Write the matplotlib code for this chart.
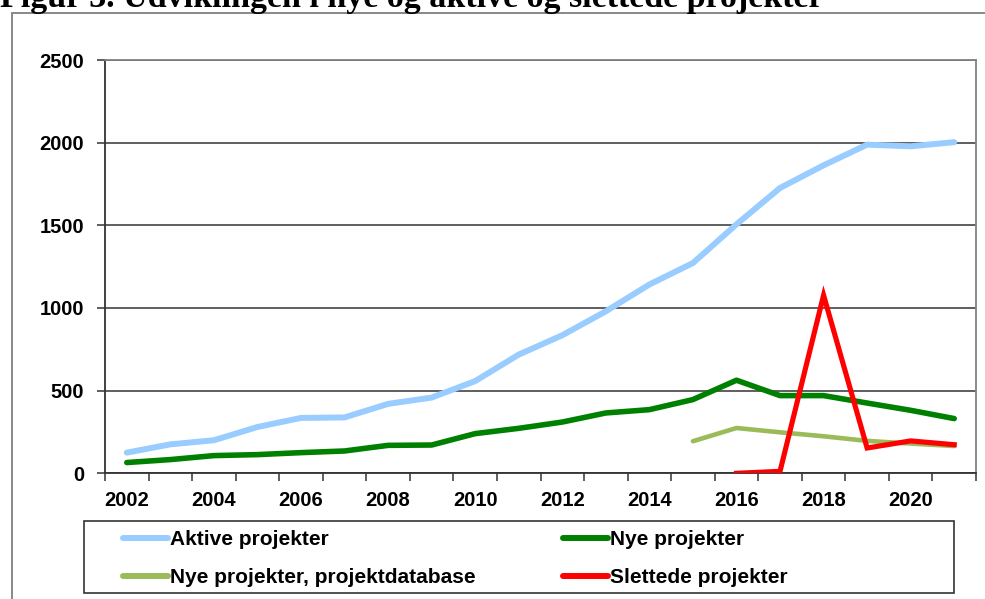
import matplotlib
matplotlib.use("Agg")
import matplotlib.pyplot as plt
from matplotlib.lines import Line2D
from matplotlib.patches import Rectangle

years = list(range(2002, 2022))
aktive = [125, 175, 200, 280, 335, 338, 420, 458, 558, 718,
          835, 980, 1142, 1272, 1506, 1726, 1863, 1988, 1978, 2003]
nye = [65, 83, 107, 113, 125, 135, 169, 171, 240, 272,
       310, 365, 385, 446, 563, 470, 470, 425, 381, 331]
nye_db_years = [2015, 2016, 2017, 2018, 2019, 2020, 2021]
nye_db = [194, 274, 248, 224, 196, 180, 165]
slettede_years = [2016, 2017, 2018, 2019, 2020, 2021]
slettede = [0, 12, 1077, 153, 196, 173]
year_labels = ["2002", "2004", "2006", "2008", "2010",
               "2012", "2014", "2016", "2018", "2020"]

title = "Figur 3. Udviklingen i nye og aktive og slettede projekter"

plt.rcParams["font.family"] = "Liberation Sans"
plt.rcParams["font.weight"] = "bold"

W, H = 985, 599
fig = plt.figure(figsize=(W / 100, H / 100), dpi=100)

def fx(px):
    return px / W

def fy(py):
    return 1 - py / H

# outer frame (cut by the image edge on the right and bottom)
fig.add_artist(Rectangle((fx(11.5), -0.1), 1.2, fy(13) + 0.1, transform=fig.transFigure,
                         fill=False, edgecolor="#7f7f7f", linewidth=1.3))

# title sits partly above the top edge, as in the source
fig.text(fx(0), fy(7), title, fontsize=24.5, fontweight="bold",
         family="Liberation Serif", va="baseline", ha="left")

ax = fig.add_axes([fx(105), fy(473.3), fx(976) - fx(105), fy(60) - fy(473.3)])

idx = {y: i for i, y in enumerate(years)}
ax.plot([idx[y] for y in years], aktive, color="#99ccff", lw=4.3, solid_capstyle="round",
        solid_joinstyle="round", label="Aktive projekter", zorder=3)
ax.plot([idx[y] for y in years], nye, color="#008000", lw=4.0, solid_capstyle="round",
        solid_joinstyle="round", label="Nye projekter", zorder=3)
ax.plot([idx[y] for y in nye_db_years], nye_db, color="#9bbb59", lw=3.3, solid_capstyle="round",
        solid_joinstyle="round", label="Nye projekter, projektdatabase", zorder=3)
ax.plot([idx[y] for y in slettede_years], slettede, color="#ff0000", lw=3.7,
        solid_joinstyle="miter", label="Slettede projekter", zorder=4)

ax.set_xlim(-0.5, len(years) - 0.5)
ax.set_ylim(0, 2500)
ax.set_yticks(range(0, 2501, 500))
ax.yaxis.grid(True, color="#333333", linewidth=1.1)
ax.set_axisbelow(True)

ax.set_xticks([i - 0.5 for i in range(len(years) + 1)])
ax.set_xticklabels([])
ax.set_xticks(range(0, len(years), 2), minor=True)
ax.set_xticklabels(year_labels, minor=True)
ax.tick_params(axis="x", which="major", direction="out", length=6, width=1.1, color="#333333")
ax.tick_params(axis="x", which="minor", length=0, pad=12.5, labelsize=14.5)
ax.tick_params(axis="y", direction="out", length=6, width=1.1, color="#333333", pad=9, labelsize=14.5)

for s in ["left", "bottom"]:
    ax.spines[s].set_color("#333333")
    ax.spines[s].set_linewidth(1.3)
for s in ["top", "right"]:
    ax.spines[s].set_color("#808080")
    ax.spines[s].set_linewidth(1.3)

# legend box
fig.add_artist(Rectangle((fx(84), fy(593)), fx(954) - fx(84), fy(521) - fy(593),
                         transform=fig.transFigure, fill=False, edgecolor="#333333", linewidth=1.2))
handles = [
    Line2D([], [], color="#99ccff", lw=4.3, solid_capstyle="round"),
    Line2D([], [], color="#9bbb59", lw=4.3, solid_capstyle="round"),
    Line2D([], [], color="#008000", lw=4.3, solid_capstyle="round"),
    Line2D([], [], color="#ff0000", lw=4.3, solid_capstyle="round"),
]
labels = ["Aktive projekter", "Nye projekter, projektdatabase",
          "Nye projekter", "Slettede projekter"]
fig.legend(handles, labels, loc="upper left", bbox_to_anchor=(fx(123), fy(530)),
           ncol=2, frameon=False, fontsize=15, handlelength=2.16, handletextpad=0.1,
           columnspacing=4.2, labelspacing=0.92, borderpad=0, borderaxespad=0)

fig.savefig("out.png", dpi=100)
